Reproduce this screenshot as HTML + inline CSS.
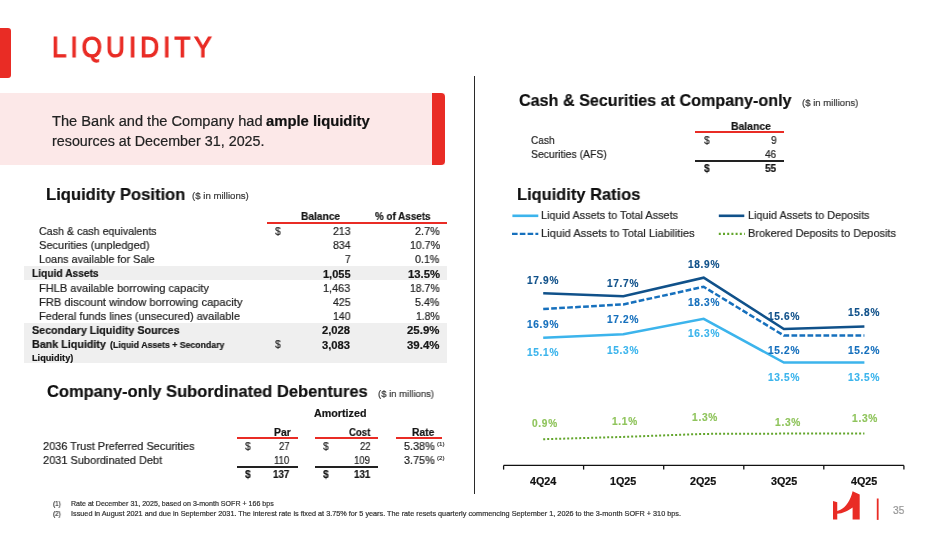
<!DOCTYPE html>
<html><head><meta charset="utf-8"><title>Liquidity</title>
<style>
html,body{margin:0;padding:0;background:#fff;}
body{width:949px;height:534px;position:relative;overflow:hidden;font-family:"Liberation Sans",sans-serif;}
.t{position:absolute;white-space:nowrap;line-height:normal;transform-origin:0 0;will-change:transform;-webkit-text-stroke:0.2px currentColor;}
.r{position:absolute;}
.ov{position:absolute;left:0;top:0;}
</style></head><body>
<div class="r" style="left:0;top:27.6px;width:10.7px;height:50.5px;background:#E92C25;border-radius:0 3px 3px 0;"></div>
<div class="t" style="left:52.3px;top:30.96px;font-size:29px;color:#E92C25;letter-spacing:4.45px;-webkit-text-stroke:1.2px #E92C25;transform:scaleX(0.9);">LIQUIDITY</div>
<div class="r" style="left:0;top:92.7px;width:445px;height:72.5px;background:#FCE8E8;"></div>
<div class="r" style="left:432.4px;top:92.7px;width:12.6px;height:72.5px;background:#E92C25;border-radius:0 4px 4px 0;"></div>
<div class="r" style="left:474px;top:76.4px;width:1.3px;height:417.4px;background:#2a2a2a;"></div>
<div class="r" style="left:24px;top:266.2px;width:423.1px;height:13.8px;background:#EFEFEF;"></div>
<div class="r" style="left:24px;top:323.2px;width:423.1px;height:40.2px;background:#EFEFEF;"></div>
<div class="r" style="left:267.4px;top:222.4px;width:179.7px;height:1.9px;background:#E92C25;"></div>
<div class="r" style="left:237.3px;top:437.1px;width:60.6px;height:1.9px;background:#E92C25;"></div>
<div class="r" style="left:315.3px;top:437.1px;width:63px;height:1.9px;background:#E92C25;"></div>
<div class="r" style="left:396px;top:437.1px;width:46px;height:1.9px;background:#E92C25;"></div>
<div class="r" style="left:237.3px;top:465.8px;width:60.6px;height:1.8px;background:#222;"></div>
<div class="r" style="left:315.3px;top:465.8px;width:63px;height:1.8px;background:#222;"></div>
<div class="r" style="left:695.1px;top:131.4px;width:89.1px;height:1.9px;background:#E92C25;"></div>
<div class="r" style="left:695.1px;top:160.0px;width:89.1px;height:1.8px;background:#222;"></div>
<svg class="ov" width="949" height="534" viewBox="0 0 949 534">
<polyline points="543.2,337.8 623.3,334.3 703.7,318.8 783.9,362.6 864.4,362.6" fill="none" stroke="#3CB4EC" stroke-width="2.5"/>
<polyline points="543.2,309.0 623.3,304.4 703.7,286.8 783.9,335.6 864.4,335.6" fill="none" stroke="#1670BD" stroke-width="2.5" stroke-dasharray="5.7 2.3"/>
<polyline points="543.2,293.3 623.3,296.3 703.7,277.7 783.9,329.0 864.4,326.4" fill="none" stroke="#10518A" stroke-width="2.5"/>
<polyline points="543.2,439.2 623.3,436.9 703.7,433.9 783.9,433.6 864.4,433.6" fill="none" stroke="#62A52B" stroke-width="2" stroke-dasharray="2 2"/>
<line x1="503.6" y1="465.4" x2="903.9" y2="465.4" stroke="#111" stroke-width="1.3"/>
<line x1="503.6" y1="465.4" x2="503.6" y2="469.6" stroke="#111" stroke-width="1.3"/><line x1="583.6" y1="465.4" x2="583.6" y2="469.6" stroke="#111" stroke-width="1.3"/><line x1="663.7" y1="465.4" x2="663.7" y2="469.6" stroke="#111" stroke-width="1.3"/><line x1="743.8" y1="465.4" x2="743.8" y2="469.6" stroke="#111" stroke-width="1.3"/><line x1="823.8" y1="465.4" x2="823.8" y2="469.6" stroke="#111" stroke-width="1.3"/><line x1="903.9" y1="465.4" x2="903.9" y2="469.6" stroke="#111" stroke-width="1.3"/>
<!-- legend -->
<line x1="512.4" y1="215.8" x2="538.3" y2="215.8" stroke="#3CB4EC" stroke-width="2.6"/>
<line x1="512.0" y1="233.9" x2="538.3" y2="233.9" stroke="#1670BD" stroke-width="2.4" stroke-dasharray="5.6 2.2"/>
<line x1="718.8" y1="215.8" x2="744.3" y2="215.8" stroke="#10518A" stroke-width="2.6"/>
<line x1="718.8" y1="233.9" x2="744.8" y2="233.9" stroke="#62A52B" stroke-width="2.1" stroke-dasharray="2 2.2"/>
<!-- logo -->
<path d="M833.0,501.1 L837.25,502.2 L837.25,510.9 C845,509 850,502 852.6,491.3 L859.7,494.4 L859.7,519.5 L852.6,519.5 L852.6,507.4 C849,510.2 843,513.6 837.25,513.8 L837.25,519.5 L833.0,519.5 Z" fill="#E92C25"/>
<rect x="876.8" y="498.5" width="1.8" height="21.4" fill="#E92C25"/>
</svg>
<div class="t" style="left:51.90px;top:113.00px;font-size:14px;color:#222222;transform:scaleX(1.0444);">The Bank and the Company had</div>
<div class="t" style="left:266.20px;top:113.00px;font-size:14px;color:#111;font-weight:bold;transform:scaleX(1.0577);">ample liquidity</div>
<div class="t" style="left:51.90px;top:133.00px;font-size:14px;color:#222222;transform:scaleX(1.0228);">resources at December 31, 2025.</div>
<div class="t" style="left:46.20px;top:185.00px;font-size:16.7px;color:#111;font-weight:bold;transform:scaleX(0.9958);">Liquidity Position</div>
<div class="t" style="left:191.90px;top:190.00px;font-size:9.6px;color:#383838;transform:scaleX(1.0051);">($ in millions)</div>
<div class="t" style="left:301.00px;top:210.00px;font-size:11px;color:#161616;font-weight:bold;transform:scaleX(0.9270);">Balance</div>
<div class="t" style="left:374.90px;top:210.00px;font-size:11px;color:#161616;font-weight:bold;transform:scaleX(0.8966);">% of Assets</div>
<div class="t" style="left:39.40px;top:225.00px;font-size:11.5px;color:#222222;transform:scaleX(0.9289);">Cash &amp; cash equivalents</div>
<div class="t" style="left:39.40px;top:239.00px;font-size:11.5px;color:#222222;transform:scaleX(0.9606);">Securities (unpledged)</div>
<div class="t" style="left:39.40px;top:253.00px;font-size:11.5px;color:#222222;transform:scaleX(0.9432);">Loans available for Sale</div>
<div class="t" style="left:32.30px;top:267.00px;font-size:11px;color:#161616;font-weight:bold;transform:scaleX(0.9291);">Liquid Assets</div>
<div class="t" style="left:39.40px;top:282.00px;font-size:11.5px;color:#222222;transform:scaleX(0.9605);">FHLB available borrowing capacity</div>
<div class="t" style="left:39.40px;top:296.00px;font-size:11.5px;color:#222222;transform:scaleX(0.9700);">FRB discount window borrowing capacity</div>
<div class="t" style="left:39.40px;top:310.00px;font-size:11.5px;color:#222222;transform:scaleX(0.9556);">Federal funds lines (unsecured) available</div>
<div class="t" style="left:32.30px;top:324.00px;font-size:11px;color:#161616;font-weight:bold;transform:scaleX(0.9738);">Secondary Liquidity Sources</div>
<div class="t" style="left:32.30px;top:338.00px;font-size:11px;color:#161616;font-weight:bold;transform:scaleX(0.9744);">Bank Liquidity</div>
<div class="t" style="left:110.40px;top:340.00px;font-size:9px;color:#161616;font-weight:bold;transform:scaleX(0.9689);">(Liquid Assets + Secondary</div>
<div class="t" style="left:32.30px;top:353.00px;font-size:9px;color:#161616;font-weight:bold;transform:scaleX(1.0199);">Liquidity)</div>
<div class="t" style="left:332.70px;top:225.00px;font-size:11px;color:#222222;transform:scaleX(0.9597);">213</div>
<div class="t" style="left:414.90px;top:225.00px;font-size:11px;color:#222222;transform:scaleX(0.9845);">2.7%</div>
<div class="t" style="left:332.70px;top:239.00px;font-size:11px;color:#222222;transform:scaleX(0.9597);">834</div>
<div class="t" style="left:409.60px;top:239.00px;font-size:11px;color:#222222;transform:scaleX(0.9615);">10.7%</div>
<div class="t" style="left:344.70px;top:253.00px;font-size:11px;color:#222222;transform:scaleX(0.9167);">7</div>
<div class="t" style="left:415.30px;top:253.00px;font-size:11px;color:#222222;transform:scaleX(0.9687);">0.1%</div>
<div class="t" style="left:322.80px;top:268.00px;font-size:11px;color:#161616;font-weight:bold;">1,055</div>
<div class="t" style="left:407.50px;top:268.00px;font-size:11px;color:#161616;font-weight:bold;transform:scaleX(1.0284);">13.5%</div>
<div class="t" style="left:323.20px;top:282.00px;font-size:11px;color:#222222;transform:scaleX(0.9851);">1,463</div>
<div class="t" style="left:410.00px;top:282.00px;font-size:11px;color:#222222;transform:scaleX(0.9488);">18.7%</div>
<div class="t" style="left:332.70px;top:296.00px;font-size:11px;color:#222222;transform:scaleX(0.9597);">425</div>
<div class="t" style="left:415.30px;top:296.00px;font-size:11px;color:#222222;transform:scaleX(0.9687);">5.4%</div>
<div class="t" style="left:332.70px;top:310.00px;font-size:11px;color:#222222;transform:scaleX(0.9597);">140</div>
<div class="t" style="left:416.00px;top:310.00px;font-size:11px;color:#222222;transform:scaleX(0.9410);">1.8%</div>
<div class="t" style="left:322.20px;top:324.00px;font-size:11px;color:#161616;font-weight:bold;transform:scaleX(1.0216);">2,028</div>
<div class="t" style="left:407.10px;top:324.00px;font-size:11px;color:#161616;font-weight:bold;transform:scaleX(1.0411);">25.9%</div>
<div class="t" style="left:322.20px;top:339.00px;font-size:11px;color:#161616;font-weight:bold;transform:scaleX(1.0216);">3,083</div>
<div class="t" style="left:407.10px;top:339.00px;font-size:11px;color:#161616;font-weight:bold;transform:scaleX(1.0411);">39.4%</div>
<div class="t" style="left:275.00px;top:225.00px;font-size:11px;color:#222222;transform:scaleX(0.9200);">$</div>
<div class="t" style="left:275.00px;top:338.00px;font-size:11px;color:#222222;transform:scaleX(0.9200);">$</div>
<div class="t" style="left:47.40px;top:382.00px;font-size:16.7px;color:#111;font-weight:bold;transform:scaleX(0.9882);">Company-only Subordinated Debentures</div>
<div class="t" style="left:377.80px;top:388.00px;font-size:9.6px;color:#383838;transform:scaleX(0.9909);">($ in millions)</div>
<div class="t" style="left:313.60px;top:408.00px;font-size:10.4px;color:#161616;font-weight:bold;transform:scaleX(1.0326);">Amortized</div>
<div class="t" style="left:274.00px;top:427.00px;font-size:10.4px;color:#161616;font-weight:bold;transform:scaleX(0.9935);">Par</div>
<div class="t" style="left:348.80px;top:427.00px;font-size:10.4px;color:#161616;font-weight:bold;transform:scaleX(0.9226);">Cost</div>
<div class="t" style="left:411.80px;top:427.00px;font-size:10.4px;color:#161616;font-weight:bold;transform:scaleX(0.9893);">Rate</div>
<div class="t" style="left:42.70px;top:440.00px;font-size:11.5px;color:#222222;transform:scaleX(0.9517);">2036 Trust Preferred Securities</div>
<div class="t" style="left:42.70px;top:454.00px;font-size:11.5px;color:#222222;transform:scaleX(0.9555);">2031 Subordinated Debt</div>
<div class="t" style="left:245.40px;top:440.00px;font-size:11px;color:#222222;transform:scaleX(0.9200);">$</div>
<div class="t" style="left:278.76px;top:441.00px;font-size:10.4px;color:#222222;transform:scaleX(0.9200);">27</div>
<div class="t" style="left:323.40px;top:440.00px;font-size:11px;color:#222222;transform:scaleX(0.9200);">$</div>
<div class="t" style="left:359.76px;top:441.00px;font-size:10.4px;color:#222222;transform:scaleX(0.9200);">22</div>
<div class="t" style="left:404.00px;top:440.00px;font-size:11px;color:#222222;transform:scaleX(0.9806);">5.38%</div>
<div class="t" style="left:274.16px;top:455.00px;font-size:10.4px;color:#222222;transform:scaleX(0.9200);">110</div>
<div class="t" style="left:354.45px;top:455.00px;font-size:10.4px;color:#222222;transform:scaleX(0.9200);">109</div>
<div class="t" style="left:404.00px;top:454.00px;font-size:11px;color:#222222;transform:scaleX(0.9806);">3.75%</div>
<div class="t" style="left:437.00px;top:441.00px;font-size:6px;color:#383838;transform:scaleX(1.0225);">(1)</div>
<div class="t" style="left:437.00px;top:455.00px;font-size:6px;color:#383838;transform:scaleX(1.0225);">(2)</div>
<div class="t" style="left:245.00px;top:468.00px;font-size:11px;color:#161616;font-weight:bold;transform:scaleX(0.9200);">$</div>
<div class="t" style="left:273.24px;top:468.00px;font-size:10.6px;color:#161616;font-weight:bold;transform:scaleX(0.9200);">137</div>
<div class="t" style="left:323.30px;top:468.00px;font-size:11px;color:#161616;font-weight:bold;transform:scaleX(0.9200);">$</div>
<div class="t" style="left:354.24px;top:468.00px;font-size:10.6px;color:#161616;font-weight:bold;transform:scaleX(0.9200);">131</div>
<div class="t" style="left:52.70px;top:500.00px;font-size:7.0px;color:#333;transform:scaleX(0.9000);">(1)</div>
<div class="t" style="left:70.80px;top:500.00px;font-size:7.0px;color:#333;transform:scaleX(1.0107);">Rate at December  31, 2025, based on 3-month SOFR + 166 bps</div>
<div class="t" style="left:52.70px;top:510.00px;font-size:7.0px;color:#333;transform:scaleX(0.9000);">(2)</div>
<div class="t" style="left:70.80px;top:510.00px;font-size:7.0px;color:#333;transform:scaleX(1.0396);">Issued in August 2021 and due in September 2031. The interest rate is fixed at 3.75% for 5 years. The rate resets quarterly commencing September 1, 2026 to the 3-month SOFR + 310 bps.</div>
<div class="t" style="left:519.30px;top:91.00px;font-size:16.7px;color:#111;font-weight:bold;transform:scaleX(0.9670);">Cash &amp; Securities at Company-only</div>
<div class="t" style="left:801.90px;top:97.00px;font-size:9.6px;color:#383838;transform:scaleX(0.9962);">($ in millions)</div>
<div class="t" style="left:731.00px;top:120.00px;font-size:11px;color:#161616;font-weight:bold;transform:scaleX(0.9460);">Balance</div>
<div class="t" style="left:530.70px;top:134.00px;font-size:11.5px;color:#222222;transform:scaleX(0.8771);">Cash</div>
<div class="t" style="left:530.70px;top:148.00px;font-size:11.5px;color:#222222;transform:scaleX(0.9048);">Securities (AFS)</div>
<div class="t" style="left:704.00px;top:134.00px;font-size:11px;color:#222222;transform:scaleX(0.9200);">$</div>
<div class="t" style="left:771.08px;top:134.00px;font-size:11px;color:#222222;transform:scaleX(0.9200);">9</div>
<div class="t" style="left:765.45px;top:148.00px;font-size:11px;color:#222222;transform:scaleX(0.9200);">46</div>
<div class="t" style="left:704.00px;top:162.00px;font-size:11px;color:#161616;font-weight:bold;transform:scaleX(0.9200);">$</div>
<div class="t" style="left:765.45px;top:162.00px;font-size:11px;color:#161616;font-weight:bold;transform:scaleX(0.9200);">55</div>
<div class="t" style="left:517.02px;top:185.00px;font-size:16.7px;color:#111;font-weight:bold;transform:scaleX(0.9849);">Liquidity Ratios</div>
<div class="t" style="left:540.80px;top:209.00px;font-size:11.4px;color:#262626;transform:scaleX(0.9546);">Liquid Assets to Total Assets</div>
<div class="t" style="left:540.80px;top:227.00px;font-size:11.4px;color:#262626;transform:scaleX(0.9806);">Liquid Assets to Total Liabilities</div>
<div class="t" style="left:747.60px;top:209.00px;font-size:11.4px;color:#262626;transform:scaleX(0.9548);">Liquid Assets to Deposits</div>
<div class="t" style="left:747.60px;top:227.00px;font-size:11.4px;color:#262626;transform:scaleX(0.9614);">Brokered Deposits to Deposits</div>
<div class="t" style="left:527.45px;top:275.00px;font-size:10px;color:#10518A;font-weight:bold;transform:scaleX(1.0076);letter-spacing:0.7px;-webkit-text-stroke:0.15px #10518A;">17.9%</div>
<div class="t" style="left:607.45px;top:278.00px;font-size:10px;color:#10518A;font-weight:bold;transform:scaleX(1.0076);letter-spacing:0.7px;-webkit-text-stroke:0.15px #10518A;">17.7%</div>
<div class="t" style="left:688.05px;top:259.00px;font-size:10px;color:#10518A;font-weight:bold;transform:scaleX(1.0076);letter-spacing:0.7px;-webkit-text-stroke:0.15px #10518A;">18.9%</div>
<div class="t" style="left:768.05px;top:311.00px;font-size:10px;color:#10518A;font-weight:bold;transform:scaleX(1.0076);letter-spacing:0.7px;-webkit-text-stroke:0.15px #10518A;">15.6%</div>
<div class="t" style="left:848.25px;top:307.00px;font-size:10px;color:#10518A;font-weight:bold;transform:scaleX(1.0076);letter-spacing:0.7px;-webkit-text-stroke:0.15px #10518A;">15.8%</div>
<div class="t" style="left:527.45px;top:319.00px;font-size:10px;color:#1670BD;font-weight:bold;transform:scaleX(1.0076);letter-spacing:0.7px;-webkit-text-stroke:0.15px #1670BD;">16.9%</div>
<div class="t" style="left:607.45px;top:314.00px;font-size:10px;color:#1670BD;font-weight:bold;transform:scaleX(1.0076);letter-spacing:0.7px;-webkit-text-stroke:0.15px #1670BD;">17.2%</div>
<div class="t" style="left:688.05px;top:297.00px;font-size:10px;color:#1670BD;font-weight:bold;transform:scaleX(1.0076);letter-spacing:0.7px;-webkit-text-stroke:0.15px #1670BD;">18.3%</div>
<div class="t" style="left:768.05px;top:345.00px;font-size:10px;color:#1670BD;font-weight:bold;transform:scaleX(1.0076);letter-spacing:0.7px;-webkit-text-stroke:0.15px #1670BD;">15.2%</div>
<div class="t" style="left:848.25px;top:345.00px;font-size:10px;color:#1670BD;font-weight:bold;transform:scaleX(1.0076);letter-spacing:0.7px;-webkit-text-stroke:0.15px #1670BD;">15.2%</div>
<div class="t" style="left:527.45px;top:347.00px;font-size:10px;color:#3CB4EC;font-weight:bold;transform:scaleX(1.0076);letter-spacing:0.7px;-webkit-text-stroke:0.15px #3CB4EC;">15.1%</div>
<div class="t" style="left:607.45px;top:345.00px;font-size:10px;color:#3CB4EC;font-weight:bold;transform:scaleX(1.0076);letter-spacing:0.7px;-webkit-text-stroke:0.15px #3CB4EC;">15.3%</div>
<div class="t" style="left:688.05px;top:328.00px;font-size:10px;color:#3CB4EC;font-weight:bold;transform:scaleX(1.0076);letter-spacing:0.7px;-webkit-text-stroke:0.15px #3CB4EC;">16.3%</div>
<div class="t" style="left:768.05px;top:372.00px;font-size:10px;color:#3CB4EC;font-weight:bold;transform:scaleX(1.0076);letter-spacing:0.7px;-webkit-text-stroke:0.15px #3CB4EC;">13.5%</div>
<div class="t" style="left:848.25px;top:372.00px;font-size:10px;color:#3CB4EC;font-weight:bold;transform:scaleX(1.0076);letter-spacing:0.7px;-webkit-text-stroke:0.15px #3CB4EC;">13.5%</div>
<div class="t" style="left:531.55px;top:418.00px;font-size:10px;color:#8FC45C;font-weight:bold;transform:scaleX(1.0119);letter-spacing:0.7px;-webkit-text-stroke:0.15px #8FC45C;">0.9%</div>
<div class="t" style="left:611.65px;top:416.00px;font-size:10px;color:#8FC45C;font-weight:bold;transform:scaleX(1.0119);letter-spacing:0.7px;-webkit-text-stroke:0.15px #8FC45C;">1.1%</div>
<div class="t" style="left:691.75px;top:412.00px;font-size:10px;color:#8FC45C;font-weight:bold;transform:scaleX(1.0199);letter-spacing:0.7px;-webkit-text-stroke:0.15px #8FC45C;">1.3%</div>
<div class="t" style="left:774.55px;top:417.00px;font-size:10px;color:#8FC45C;font-weight:bold;transform:scaleX(1.0199);letter-spacing:0.7px;-webkit-text-stroke:0.15px #8FC45C;">1.3%</div>
<div class="t" style="left:851.75px;top:413.00px;font-size:10px;color:#8FC45C;font-weight:bold;transform:scaleX(1.0199);letter-spacing:0.7px;-webkit-text-stroke:0.15px #8FC45C;">1.3%</div>
<div class="t" style="left:530.10px;top:475.00px;font-size:10.6px;color:#111;font-weight:bold;transform:scaleX(1.0145);">4Q24</div>
<div class="t" style="left:610.10px;top:475.00px;font-size:10.6px;color:#111;font-weight:bold;transform:scaleX(1.0145);">1Q25</div>
<div class="t" style="left:690.20px;top:475.00px;font-size:10.6px;color:#111;font-weight:bold;transform:scaleX(1.0145);">2Q25</div>
<div class="t" style="left:770.60px;top:475.00px;font-size:10.6px;color:#111;font-weight:bold;transform:scaleX(1.0145);">3Q25</div>
<div class="t" style="left:850.70px;top:475.00px;font-size:10.6px;color:#111;font-weight:bold;transform:scaleX(1.0145);">4Q25</div>
<div class="t" style="left:892.70px;top:505.00px;font-size:10.3px;color:#959595;transform:scaleX(0.9807);">35</div>
</body></html>
